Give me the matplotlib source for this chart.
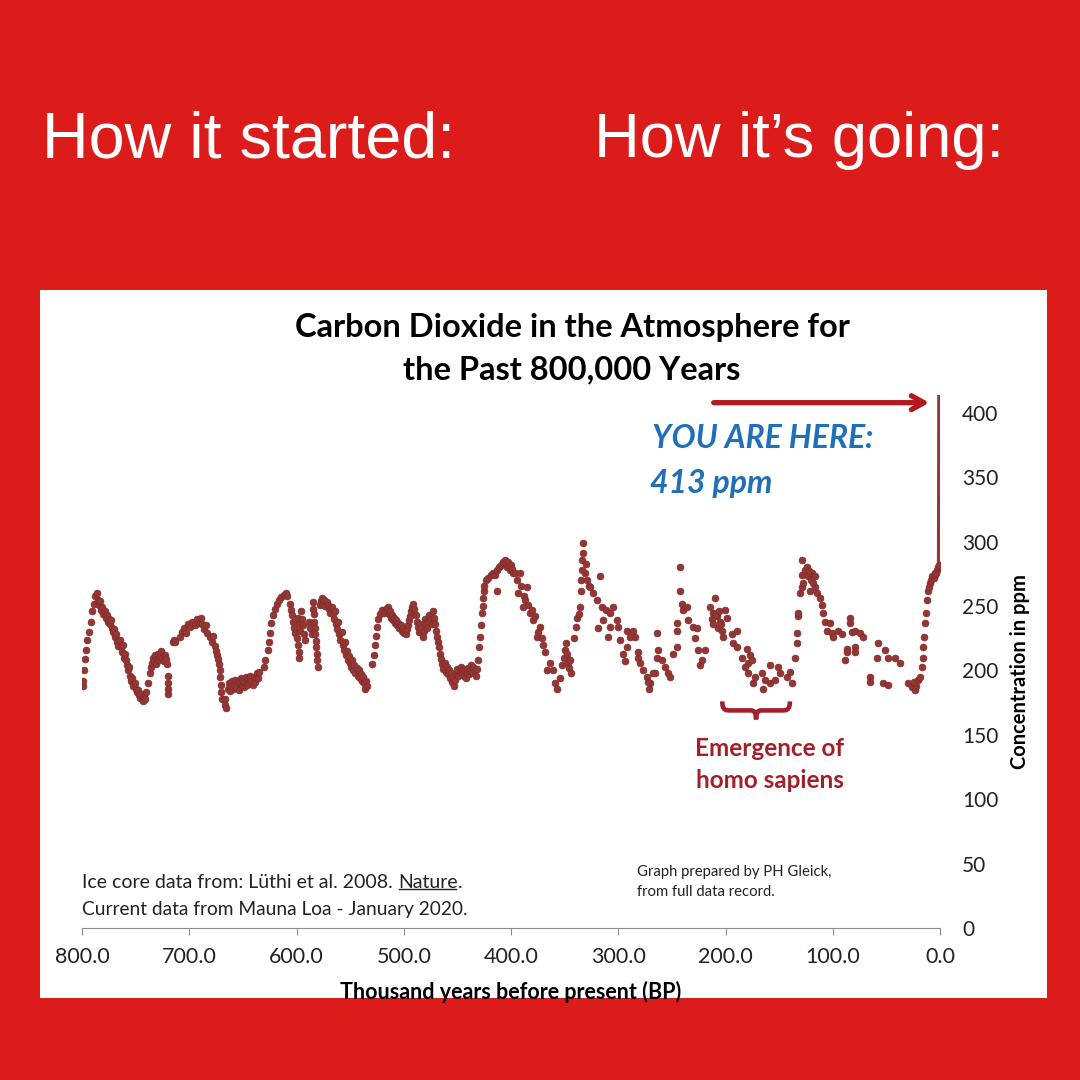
import matplotlib
matplotlib.use("Agg")
import matplotlib.pyplot as plt
from matplotlib.patches import Rectangle, PathPatch
from matplotlib.path import Path
from matplotlib.lines import Line2D

# ice core record: (thousand years BP, ppm)
ice_kyr = [
    799.5, 799, 798, 797, 796, 795, 793.5, 792, 790.5, 789, 787.5, 786,
    785, 784, 783, 782, 781, 780, 779, 778, 777, 776, 775, 774, 773, 772, 771, 770,
    769, 768, 767, 766, 765, 764, 763, 762, 761, 760, 759, 758, 757, 756, 755, 754,
    753, 752, 751, 750, 749, 748, 747, 746, 745, 744, 743, 742, 741, 740,
    738, 737, 736, 735, 734, 733, 732, 731, 730, 729, 728, 727, 726, 725, 724, 723,
    722, 721, 720, 720, 719.5, 719.5, 715, 714, 713,
    709, 707, 705, 703, 701, 699, 697, 695, 693, 691, 689, 688, 686, 684, 683, 681,
    679, 678, 676, 675, 674, 673,
    672, 671.5, 671, 670.5, 670, 669.5, 667, 666.5, 666,
    664, 663, 662, 661, 660, 659, 658, 657, 656, 655, 654, 653, 652, 651, 650, 649,
    648, 647, 646, 645, 644, 643, 642, 641, 640, 639, 638, 637, 636, 635,
    630, 629, 627, 626, 625, 624, 622, 620, 618, 616, 614, 612, 610, 609,
    606, 605, 604, 603, 602, 601, 600, 599, 598, 597.5, 599, 598, 597, 596, 595, 594,
    593, 592,
    588, 587, 586, 585, 584.5, 584, 583.5, 583, 582.5, 582, 581.5, 581, 580.5, 580,
    578, 577, 576, 575, 574, 573, 572, 571, 570, 569,
    567, 566, 565, 564, 563, 562, 561, 560, 559, 558, 557, 556, 555, 554, 553, 552,
    551, 550, 549, 548, 547, 546, 545, 544, 543, 542, 541, 540, 539, 538, 537, 536,
    535, 534,
    530, 528, 527, 526, 525, 524, 522, 520,
    518, 517, 516, 515, 514, 513, 512, 511, 510, 509, 508, 507, 506, 505, 504, 503,
    502, 501, 500, 499, 498, 497, 496, 495, 494, 493, 492, 491, 490, 489, 488, 487,
    486, 485, 484, 483, 482, 481, 480, 479, 478, 477, 476, 475, 474, 473, 472, 471,
    470, 469, 468,
    467, 466, 465, 464, 463, 462, 461, 460, 459, 458, 457, 456, 455, 454, 453, 452,
    451, 450, 449, 448, 447, 446, 445, 444, 443, 442, 441, 440, 439, 438, 437, 436,
    435, 434, 433, 432,
    431, 429.5, 429, 428, 427, 426.5, 426, 425.5, 425, 423, 421, 419, 417, 415, 413,
    411, 409, 407, 406, 405, 404, 403, 402, 401, 400, 399, 398, 413,
    396, 394, 393.5, 392, 391, 389, 388, 387, 385, 384, 382, 380, 379.5, 378, 376,
    375, 373, 371, 370, 368, 366, 364, 361, 359, 357, 354,
    352, 351, 350, 349, 348, 347, 346, 345, 344,
    341, 339, 338, 336, 337, 335, 334.5, 334, 333.5, 333, 332.9,
    331, 330, 329, 327.5, 326, 317, 323.5, 320, 315, 311, 319, 314, 308, 308, 305,
    301, 300, 310, 298, 292, 286, 289, 284.5, 292, 296, 294, 282, 281.5, 280, 277,
    273, 270, 268, 266, 264, 264, 271, 272,
    263, 259, 256, 254, 252, 249, 245, 245, 245, 242.4, 242.4, 240.6, 239.6, 236,
    235, 230, 226.6, 228.4, 225.6, 219, 224, 222, 214.5, 210, 211.7, 208, 205, 207,
    203.3, 200.5, 198.6, 202.3, 194, 189.3, 193, 189.3, 184.6, 180, 177.2, 179,
    175.3, 181.8, 179, 172.5, 174.4, 166, 163.2, 165, 158.5, 158.5, 153.8, 151,
    149.2, 142.7, 139.8, 137.9, 135.2, 133.3, 133.3, 132.4, 132.4, 130.5, 128.7,
    128.7, 128.7, 213, 212, 209, 206, 204,
    127.7, 125.9, 123.1, 121.2, 119.3, 116.5, 116.5, 114.7, 111.9, 110, 109.1,
    107.2, 102.6, 105.4, 100.7, 99.8, 95.1, 91.4, 83.9, 83.9, 82, 79.2, 74.6, 71.8,
    86.7, 86.7, 79.2, 79.2, 88.6, 57.8, 51.3, 58.7, 48.5, 42, 37.3, 65.3, 65.3,
    53.1, 48.5, 29.8, 26.1, 23.3, 22, 24.5, 20.5, 18.6, 16.8, 15.9, 15.9, 14.9, 14,
    13.1, 12.1, 11.2, 9.3, 7.5, 4.7, 2.8, 1.9, 124, 122, 120, 118,
    10, 8, 6, 5, 3.5, 1, 0.5,
]
ice_ppm = [
    188, 192, 200, 209, 216, 224, 230, 238, 246, 252, 258, 260,
    255, 251, 254, 247, 249, 244, 246, 241, 243, 238, 240, 236, 239, 233, 230, 232,
    226, 228, 222, 219, 224, 218, 214, 220, 210, 213, 208, 204, 200, 203, 196, 192,
    194, 188, 190, 186, 183, 185, 181, 179, 182, 178, 176, 180, 178, 183,
    190, 198, 203, 206, 210, 207, 212, 205, 209, 213, 208, 211, 215, 210, 207, 212,
    209, 205, 196, 190, 186, 182, 222, 224, 222,
    226, 230, 233, 229, 236, 234, 238, 235, 240, 237, 241, 236, 232, 235, 229, 226,
    222, 227, 219, 215, 212, 209,
    205, 200, 195, 189, 183, 178, 173, 178, 171,
    186, 190, 184, 188, 192, 186, 189, 193, 187, 191, 185, 190, 194, 188, 192, 187,
    191, 195, 189, 193, 190, 196, 192, 189, 195, 191, 194, 198, 194, 199,
    203, 208, 216, 222, 229, 237, 243, 248, 252, 255, 257, 259, 260, 258,
    252, 247, 243, 238, 233, 229, 225, 220, 214, 210, 241, 236, 231, 246, 240, 235,
    228, 224,
    238, 233, 228, 253, 248, 244, 238, 233, 228, 223, 218, 213, 208, 203,
    251, 254, 256, 252, 255, 250, 253, 251, 248, 245,
    249, 244, 240, 246, 236, 232, 238, 228, 224, 230, 220, 216, 222, 212, 215, 208,
    211, 206, 203, 208, 200, 204, 198, 202, 196, 200, 194, 197, 192, 195, 190, 186,
    192, 188,
    205, 212, 220, 227, 234, 240, 244, 247,
    245, 248, 246, 249, 244, 246, 241, 243, 239, 241, 237, 239, 235, 237, 233, 235,
    231, 233, 229, 231, 228, 232, 235, 239, 242, 246, 249, 252, 248, 243, 238, 234,
    230, 236, 233, 229, 226, 231, 240, 236, 233, 238, 243, 240, 236, 246, 241, 236,
    231, 226, 222,
    218, 213, 209, 205, 201, 206, 199, 203, 197, 200, 194, 198, 191, 195, 188, 193,
    197, 201, 196, 199, 203, 198, 201, 196, 200, 194, 198, 202, 197, 200, 204, 199,
    203, 200, 196, 201,
    208, 218, 226, 235, 245, 250, 256, 262, 266, 270, 272, 274, 276, 274, 278,
    280, 282, 284, 286, 283, 280, 284, 281, 278, 282, 279, 276, 262,
    276, 270, 260, 276, 266, 249, 258, 255, 265, 251, 245, 247, 239, 242, 226,
    230, 234, 225, 220, 214, 200, 206, 200, 190, 186, 194,
    204, 210, 216, 221, 213, 206, 202, 208, 198,
    225, 234, 241, 249, 244, 262, 270, 278, 286, 291, 299,
    276, 283, 270, 266, 265, 273, 260, 255, 249, 247, 233, 239, 245, 234, 249,
    239, 234, 226, 224, 231, 231, 226, 226, 218, 213, 207, 214, 210, 206, 200,
    195, 190, 198, 198, 229, 210, 186, 191,
    216, 208, 203, 198, 195, 213, 218, 231, 237, 280, 262, 252, 247, 249,
    239, 234, 233, 225, 216, 216, 204, 208, 249, 256, 245, 242, 238, 233,
    231, 247, 241, 226, 228, 231, 221, 218, 210, 217, 212, 206,
    208, 203, 198, 195, 190, 198, 193, 186, 204, 190, 193, 203,
    198, 195, 199, 190, 210, 221, 229, 242, 245, 260, 265,
    274, 286, 240, 236, 244, 246, 236,
    268, 278, 273, 262, 276, 273, 265, 260, 256, 251, 245,
    238, 237, 231, 229, 226, 231, 228, 241, 237, 230, 231, 229, 226,
    217, 214, 218, 214, 208, 221, 216, 210, 210, 210, 206, 195, 191,
    190, 189, 190, 187, 185, 188, 191, 193, 195, 203, 210, 218, 226, 237,
    245, 255, 262, 268, 273, 276, 278, 280, 280, 277, 270, 268,
    265, 270, 272, 274, 276, 281, 282,
]

# Mauna Loa jump at the very end
modern_kyr = [0.3, 0.0]
modern_ppm = [283, 414]

x_ticks = [800, 700, 600, 500, 400, 300, 200, 100, 0]
y_ticks = [0, 50, 100, 150, 200, 250, 300, 350, 400]

RED_BG = "#DC1B1B"
DOT = "#943634"
FONT = ["Lato", "DejaVu Sans"]
TXT = "#222222"

fig = plt.figure(figsize=(10.8, 10.8), dpi=100, facecolor=RED_BG)
fig.patches.append(Rectangle((40 / 1080, 1 - 998 / 1080), 1007 / 1080, 708 / 1080,
                             transform=fig.transFigure, facecolor="white",
                             edgecolor="none", zorder=-1))

fig.text(42 / 1080, 1 - 140 / 1080, "How it started:", color="white", fontsize=46.5,
         va="center", family=["Liberation Sans", "DejaVu Sans"])
fig.text(594 / 1080, 1 - 140 / 1080, "How it\u2019s going:", color="white", fontsize=45.5,
         va="center", family=["Liberation Sans", "DejaVu Sans"])

ax = fig.add_axes([82 / 1080, 1 - 928 / 1080, 858 / 1080, 579.4 / 1080])
ax.set_facecolor("none")
ax.set_xlim(800, 0)
ax.set_ylim(0, 450)

ax.scatter(ice_kyr, ice_ppm, s=25, color=DOT, edgecolors="#7a2828", linewidths=0.4,
           zorder=3)
ax.plot(modern_kyr, modern_ppm, color=DOT, lw=4, solid_capstyle="butt", zorder=3)

for s in ["top", "left", "right"]:
    ax.spines[s].set_visible(False)
ax.spines["bottom"].set_color("#8c8c8c")

ax.set_xticks(x_ticks)
ax.set_xticklabels([f"{v:.1f}" for v in x_ticks], family=FONT)
ax.tick_params(axis="x", length=5, color="#8c8c8c", labelsize=15.5, pad=9,
               labelcolor=TXT)
ax.yaxis.tick_right()
ax.set_yticks(y_ticks)
ax.set_yticklabels([str(v) for v in y_ticks], family=FONT)
ax.tick_params(axis="y", length=0, pad=16, labelsize=15, labelcolor=TXT)

# title / axis titles
fig.text(572 / 1080, 1 - 327 / 1080, "Carbon Dioxide in the Atmosphere for",
         ha="center", va="center", fontsize=23.5, weight="bold", family=FONT)
fig.text(572 / 1080, 1 - 370 / 1080, "the Past 800,000 Years",
         ha="center", va="center", fontsize=23.5, weight="bold", family=FONT)
fig.text(511 / 1080, 1 - 992 / 1080, "Thousand years before present (BP)",
         ha="center", va="center", fontsize=15.5, weight="bold", family=FONT)
fig.text(1020 / 1080, 1 - 672 / 1080, "Concentration in ppm", rotation=90,
         ha="center", va="center", fontsize=14.5, weight="bold", family=FONT)

# you are here
ax.annotate("", xy=(10, 408), xytext=(211, 408),
            arrowprops=dict(arrowstyle="->,head_length=0.9,head_width=0.5",
                            color="#B3181E", lw=3.8, shrinkA=0, shrinkB=0))
fig.text(652 / 1080, 1 - 438 / 1080, "YOU ARE HERE:", color="#1F70B8", fontsize=23,
         weight="bold", style="italic", va="center", family=FONT)
fig.text(650 / 1080, 1 - 483 / 1080, "413 ppm", color="#1F70B8", fontsize=23,
         weight="bold", style="italic", va="center", family=FONT)

# brace + homo sapiens note
bx0, bx1 = 203, 140
def bx(u):
    return bx0 + u * (bx1 - bx0)
verts = [(bx(0), 176), (bx(0), 169), (bx(0.05), 169), (bx(0.12), 169),
         (bx(0.42), 169), (bx(0.48), 169), (bx(0.5), 167), (bx(0.5), 162),
         (bx(0.5), 167), (bx(0.52), 169), (bx(0.58), 169),
         (bx(0.88), 169), (bx(0.95), 169), (bx(1), 169), (bx(1), 176)]
codes = [Path.MOVETO, Path.CURVE4, Path.CURVE4, Path.CURVE4,
         Path.LINETO, Path.CURVE4, Path.CURVE4, Path.CURVE4,
         Path.CURVE4, Path.CURVE4, Path.CURVE4,
         Path.LINETO, Path.CURVE4, Path.CURVE4, Path.CURVE4]
ax.add_patch(PathPatch(Path(verts, codes), facecolor="none", edgecolor="#A3202A",
                       lw=3.3, zorder=3))
fig.text(770 / 1080, 1 - 748 / 1080, "Emergence of", ha="center", va="center",
         color="#A3202A", fontsize=17.5, weight="bold", family=FONT)
fig.text(770 / 1080, 1 - 781 / 1080, "homo sapiens", ha="center", va="center",
         color="#A3202A", fontsize=17.5, weight="bold", family=FONT)

# sources
t1 = fig.text(82 / 1080, 1 - 883 / 1080, "Ice core data from: L\u00fcthi et al. 2008. ",
              va="center", fontsize=14, family=FONT, color=TXT)
fig.text(82 / 1080, 1 - 909 / 1080, "Current data from Mauna Loa - January 2020.",
         va="center", fontsize=13.8, family=FONT, color=TXT)
fig.text(637 / 1080, 1 - 872 / 1080, "Graph prepared by PH Gleick,", va="center",
         fontsize=10.7, family=FONT, color=TXT)
fig.text(637 / 1080, 1 - 892 / 1080, "from full data record.", va="center",
         fontsize=10.7, family=FONT, color=TXT)

renderer = fig.canvas.get_renderer()
bb1 = t1.get_window_extent(renderer)
t2 = fig.text(bb1.x1 / 1080, 1 - 883 / 1080, "Nature", va="center", fontsize=14,
              family=FONT, color=TXT)
bb2 = t2.get_window_extent(renderer)
fig.text((bb2.x1 + 1) / 1080, 1 - 883 / 1080, ".", va="center", fontsize=14,
         family=FONT, color=TXT)
fig.lines.append(Line2D([(bb2.x0 + 1) / 1080, (bb2.x1 - 1) / 1080],
                        [(bb2.y0 + 3) / 1080, (bb2.y0 + 3) / 1080],
                        transform=fig.transFigure, color=TXT, lw=1))

fig.savefig("out.png", dpi=100, facecolor=fig.get_facecolor())
